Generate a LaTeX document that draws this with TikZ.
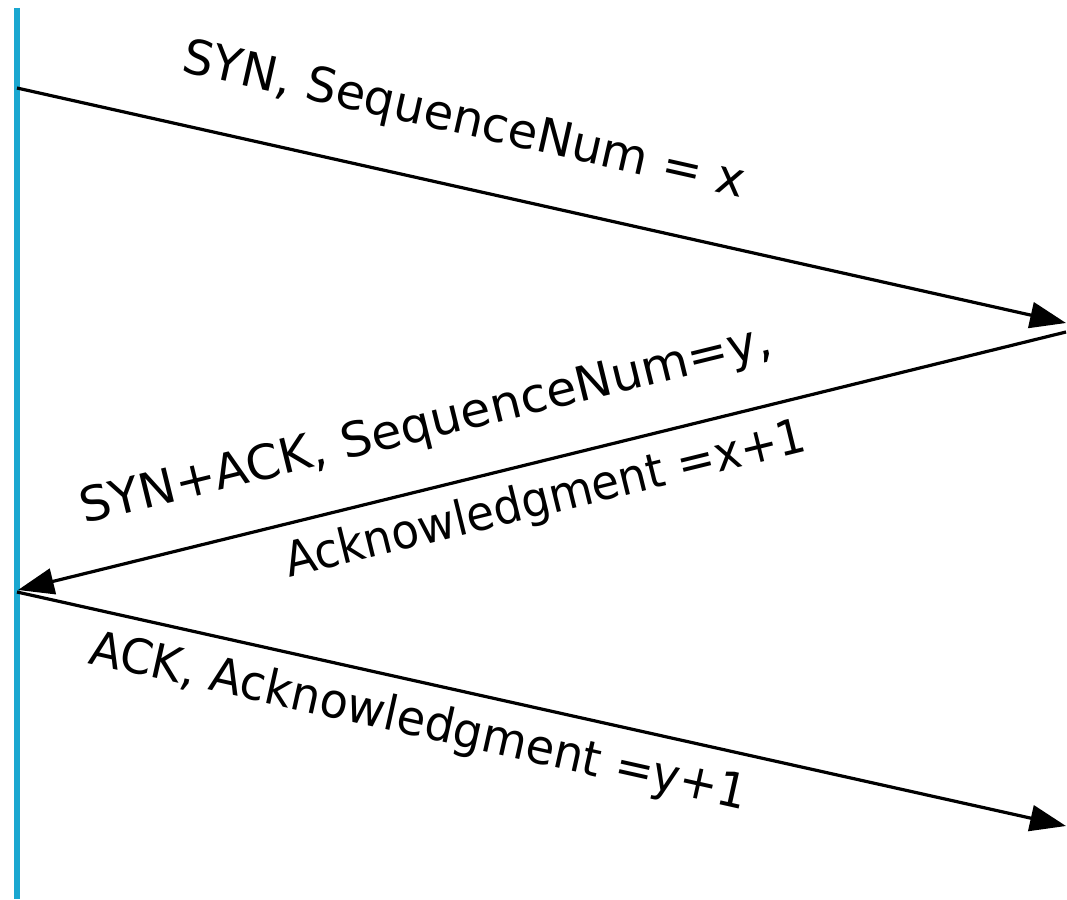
\documentclass[tikz,border=0pt]{standalone}
\usepackage{fontspec}
\setmainfont{DejaVu Sans}
\usetikzlibrary{arrows.meta}
\definecolor{lifeline}{HTML}{1AA7D0}
\begin{document}
\begin{tikzpicture}[x=1pt,y=-1pt,
  msg/.style={line width=3.2pt,-{Triangle[length=36pt,width=26pt]}},
  lbl/.style={inner sep=0pt,anchor=base west,font=\fontsize{48}{58}\selectfont},
]
\useasboundingbox (0,0) rectangle (1067,899);
% client lifeline
\coordinate (lt) at (17,8);
\coordinate (lb) at (17,899);
\draw[lifeline,line width=6pt] (lt) -- (lb);
% message end points
\coordinate (a1) at (17,88);
\coordinate (b1) at (1066,323);
\coordinate (b2) at (1066,332);
\coordinate (a2) at (18,590);
\coordinate (a3) at (17,592);
\coordinate (b3) at (1066,826);
\draw[msg] (a1) -- (b1);
\draw[msg] (b2) -- (a2);
\draw[msg] (a3) -- (b3);
% labels
\node[lbl,rotate=-12.7] (t1) at (180,71) {SYN, SequenceNum = x};
\node[lbl,rotate=13.8,xscale=1.02] (t2) at (84,524) {SYN+ACK, SequenceNum=y,};
\node[lbl,rotate=13.8,xscale=0.94] (t3) at (289,578) {Acknowledgment =x+1};
\node[lbl,rotate=-12.6,xscale=0.965] (t4) at (87,663) {ACK, Acknowledgment =y+1};
\end{tikzpicture}
\end{document}
